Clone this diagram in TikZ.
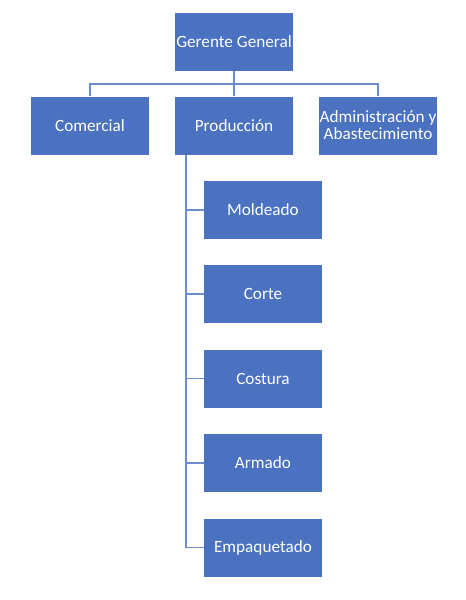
\documentclass[tikz,border=0pt]{standalone}
\usepackage{fontspec}
\setmainfont{Carlito}
\usetikzlibrary{positioning}
\definecolor{boxBlue}{HTML}{4A72C0}
\definecolor{lineBlue}{HTML}{6C8CCB}
\newcommand{\topLevel}{%%
  %% The general manager and the three areas.
  \node[boxStyle] (gerente) at (234,41.5) {Gerente General};
  \node[boxStyle] (comercial) at (90,125.5) {Comercial};
  \node[boxStyle] (produccion) at (234,125.5) {Producción};
  \node[boxStyle] (admin) at (378,125.5) {Administración y\\Abastecimiento};
  \coordinate (bus) at (234,84);
  \draw[lineStyle] (gerente) -- (produccion);
  \draw[lineStyle] (comercial.north) |- (bus) -| (admin.north);
}
\newcommand{\productionUnits}{%%
  %% The units under Producción.
  \coordinate (spine) at (186,155);
  \foreach \name/\y in {Moldeado/210,Corte/294,Costura/378.5,Armado/463,Empaquetado/547.5}{
    \node[boxStyle] (\name) at (263,\y) {\name};
    \draw[lineStyle] (spine) |- (\name.west);
  };
}
\begin{document}
\begin{tikzpicture}[%%
  x=0.75pt,y=-0.75pt,%%
  boxStyle/.style={rectangle,fill=boxBlue,text=white,font=\fontsize{12.9}{12.8}\selectfont,%%
    minimum width=88.5pt,minimum height=43.5pt,inner sep=0pt,align=center},%%
  lineStyle/.style={-,lineBlue,line width=1.1pt}
]
\useasboundingbox (0,0) rectangle (466,600);
%%
%% Upper part of the chart.
\topLevel
%%
%% Production branch.
\productionUnits
\end{tikzpicture}
\end{document}
